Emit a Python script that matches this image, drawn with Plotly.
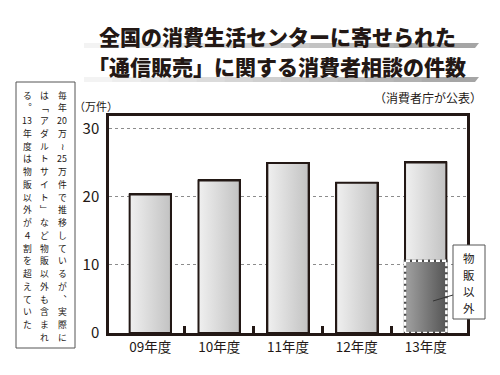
import re
import plotly.graph_objects as go

# ---------------- data ----------------
years = ["09年度", "10年度", "11年度", "12年度", "13年度"]
consults = [20.3, 22.35, 24.9, 22.0, 25.0]          # 万件
non_goods_year = "13年度"
non_goods_value = 10.6                                # 万件 (物販以外)
y_ticks = [0, 10, 20, 30]

title_lines = ["全国の消費生活センターに寄せられた", "「通信販売」に関する消費者相談の件数"]
source_text = "（消費者庁が公表）"
unit_text = "（万件）"
callout_text = "物販以外"
note_columns = [
    "毎年20万≀25万件で推移しているが︑実際に",
    "は﹁アダルトサイト﹂など物販以外も含まれ",
    "る︒13年度は物販以外が４割を超えていた",
]

INK = "#231815"
FONT = "Noto Sans CJK JP"

# plot-area pixel box (for layout placement only)
L, R, T, B = 109, 467, 116, 333
W, H = R - L, B - T


def px(x):
    return (x - L) / W


def py(y):
    return (B - y) / H


def units(text):
    return re.findall(r"\d+|.", text)


xpos = list(range(len(years)))
i13 = years.index(non_goods_year)
bw = 0.6

fig = go.Figure()
fig.add_trace(go.Bar(
    x=xpos, y=consults, width=bw,
    marker=dict(color="#d9d9d9", line=dict(color=INK, width=2)),
    hoverinfo="skip", showlegend=False, name="相談件数",
))
fig.add_trace(go.Bar(
    x=[xpos[i13]], y=[non_goods_value], width=bw,
    marker=dict(color="#787878", line=dict(width=0)),
    hoverinfo="skip", showlegend=False, name="物販以外",
))


def rect_xy(xc, v):
    x0, x1 = xc - bw / 2, xc + bw / 2
    return [x0, x1, x1, x0, x0], [0, 0, v, v, 0], x0, x1


# horizontal gradient shading of each bar (same geometry as the bars)
for xc, v in zip(xpos, consults):
    xs, ys, x0, x1 = rect_xy(xc, v)
    fig.add_trace(go.Scatter(
        x=xs, y=ys, mode="lines", fill="toself",
        fillgradient=dict(type="horizontal", colorscale=[[0, "#f0f0f0"], [1, "#c2c2c2"]], start=x0, stop=x1),
        line=dict(color=INK, width=2), hoverinfo="skip", showlegend=False,
    ))

xs, ys, x0, x1 = rect_xy(xpos[i13], non_goods_value)
fig.add_trace(go.Scatter(
    x=xs, y=ys, mode="lines", fill="toself",
    fillgradient=dict(type="horizontal", colorscale=[[0, "#a2a2a2"], [1, "#555555"]], start=x0, stop=x1),
    line=dict(color="#4a4a4a", width=2.5), hoverinfo="skip", showlegend=False,
))
fig.add_trace(go.Scatter(x=xs, y=ys, mode="lines", line=dict(color="white", width=2.5, dash="4px,2px"),
                         hoverinfo="skip", showlegend=False))

shapes = []
annotations = []

# title underline bands (graded grey, slanted right end)
for (y0, y1) in [(43, 48), (77, 82)]:
    n = 14
    x_start, x_end = 84, 478
    seg = (x_end - x_start) / n
    for k in range(n):
        g = int(250 - (250 - 165) * (k + 1) / n)
        col = f"rgb({g},{g},{g})"
        a = x_start + k * seg
        b = a + seg + 0.6
        if k == n - 1:
            path = f"M{px(a)},{py(y1)} L{px(x_end - 3)},{py(y1)} L{px(x_end + 1)},{py(y0)} L{px(a)},{py(y0)} Z"
        else:
            path = f"M{px(a)},{py(y1)} L{px(b)},{py(y1)} L{px(b)},{py(y0)} L{px(a)},{py(y0)} Z"
        shapes.append(dict(type="path", xref="paper", yref="paper", path=path,
                           fillcolor=col, line=dict(width=0), layer="above"))

# title
for text, yc in zip(title_lines, [36, 66]):
    annotations.append(dict(text=text, x=px(277), y=py(yc), xref="paper", yref="paper",
                            xanchor="center", yanchor="middle", showarrow=False,
                            font=dict(family=FONT, size=21, color=INK, weight=900)))

annotations.append(dict(text=source_text, x=px(484), y=py(97), xref="paper", yref="paper",
                        xanchor="right", yanchor="middle", showarrow=False,
                        font=dict(family=FONT, size=12, color=INK)))
annotations.append(dict(text=unit_text, x=px(72), y=py(106), xref="paper", yref="paper",
                        xanchor="left", yanchor="middle", showarrow=False,
                        font=dict(family=FONT, size=11, color=INK)))

# left note box with vertical text (one character cell per annotation)
shapes.append(dict(type="rect", xref="paper", yref="paper", x0=px(16), x1=px(75), y0=py(348), y1=py(82),
                   line=dict(color="#555555", width=1), fillcolor="white", layer="above"))
for ci, col_text in enumerate(note_columns):
    xc = 62 - ci * 17.5
    for k, u in enumerate(units(col_text)):
        annotations.append(dict(text=u, x=px(xc), y=py(95 + k * 12.75), xref="paper", yref="paper",
                                xanchor="center", yanchor="middle", showarrow=False, borderpad=0,
                                font=dict(family=FONT, size=8.8, color=INK)))

# callout for 物販以外
shapes.append(dict(type="line", xref="paper", yref="paper", x0=px(453), y0=py(295), x1=px(433), y1=py(301),
                   line=dict(color="#333333", width=1), layer="above"))
shapes.append(dict(type="rect", xref="paper", yref="paper", x0=px(453), x1=px(485), y0=py(319), y1=py(245),
                   line=dict(color="#555555", width=1), fillcolor="white", layer="above"))
for k, ch in enumerate(callout_text):
    annotations.append(dict(text=ch, x=px(469), y=py(258 + k * 16.7), xref="paper", yref="paper",
                            xanchor="center", yanchor="middle", showarrow=False, borderpad=0,
                            font=dict(family=FONT, size=11.5, color=INK)))

fig.update_layout(
    width=500, height=375,
    margin=dict(l=L, r=500 - R, t=T, b=375 - B),
    paper_bgcolor="white", plot_bgcolor="white",
    barmode="overlay", bargap=0,
    shapes=shapes, annotations=annotations,
    font=dict(family=FONT, color=INK),
    xaxis=dict(
        range=[-0.6, len(years) - 0.4], tickvals=xpos, ticktext=years, ticks="",
        showgrid=False, zeroline=False, showline=True, mirror=True,
        linecolor=INK, linewidth=2.5,
        tickfont=dict(family=FONT, size=13.5, color=INK),
        minor=dict(tickvals=[p + 0.5 for p in xpos[:-1]], ticks="inside", ticklen=7,
                   tickwidth=2.5, tickcolor=INK, showgrid=False),
        fixedrange=True,
    ),
    yaxis=dict(
        range=[0, 31.8], tickvals=y_ticks, ticks="", showgrid=True,
        gridcolor="#8c8c8c", gridwidth=1, griddash="dot", zeroline=False,
        showline=True, mirror=True, linecolor=INK, linewidth=2.5,
        tickfont=dict(family=FONT, size=15, color=INK), ticklabelstandoff=4,
        fixedrange=True,
    ),
)

fig.write_html("out.html", config={"displayModeBar": False},
               post_script="document.body.style.margin='0';document.body.style.overflow='hidden';")
